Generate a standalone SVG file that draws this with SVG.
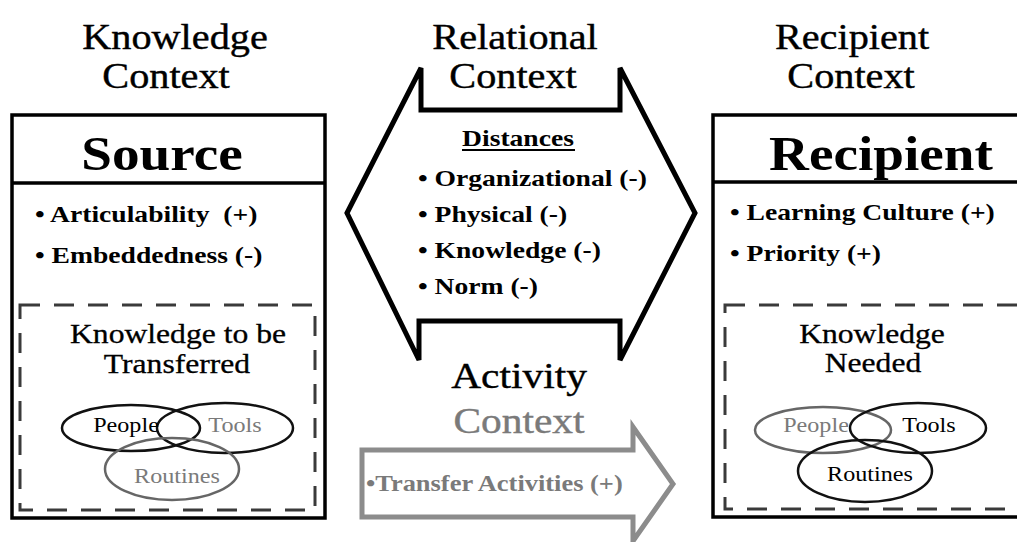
<svg xmlns="http://www.w3.org/2000/svg" width="1017" height="542" viewBox="0 0 1017 542">
<style>
.t{font-family:"Liberation Serif","Times New Roman",serif;fill:#000}
.title{font-size:35px;text-anchor:middle;stroke:#000;stroke-width:0.4}
.act{font-size:36px;text-anchor:middle;stroke:#000;stroke-width:0.4}
.actg{fill:#7a7a7a;stroke:#7a7a7a}
.head{font-size:48px;font-weight:bold;text-anchor:middle}
.b{font-size:24px;font-weight:bold}
.inner{font-size:27.5px;text-anchor:middle;stroke:#000;stroke-width:0.3}
.ov{font-size:21px;text-anchor:middle}
.grey{fill:#7a7a7a}
.box{fill:#fff;stroke:#000;stroke-width:3.5}
.sep{stroke:#000;stroke-width:3.5}
.dash{fill:none;stroke:#3a3a3a;stroke-width:3;stroke-dasharray:20 14}
.ell{fill:none;stroke:#111;stroke-width:2.5}
.ellg{fill:none;stroke:#666;stroke-width:2.5}
</style>
<rect width="1017" height="542" fill="#fff"/>

<g id="source">
  <text class="t title" transform="translate(175,49) scale(1.15,1)">Knowledge</text>
  <text class="t title" transform="translate(166,88) scale(1.15,1)">Context</text>
  <rect class="box" x="12" y="115" width="313" height="403"/>
  <line class="sep" x1="12" y1="183" x2="325" y2="183"/>
  <text class="t head" transform="translate(162,170) scale(1.15,1)">Source</text>
  <text class="t b" transform="translate(35,222) scale(1.15,1)">• Articulability&#160; (+)</text>
  <text class="t b" transform="translate(35,263) scale(1.15,1)">• Embeddedness (-)</text>
  <rect class="dash" x="20" y="305" width="295" height="205"/>
  <text class="t inner" transform="translate(178,343) scale(1.15,1)">Knowledge to be</text>
  <text class="t inner" transform="translate(177,373) scale(1.15,1)">Transferred</text>
  <ellipse class="ell" cx="131" cy="428" rx="69" ry="23"/>
  <ellipse class="ell" cx="225" cy="428" rx="68" ry="25"/>
  <ellipse class="ellg" cx="172" cy="469" rx="67" ry="31"/>
  <text class="t ov" transform="translate(126,432) scale(1.15,1)">People</text>
  <text class="t ov grey" transform="translate(235,432) scale(1.15,1)">Tools</text>
  <text class="t ov grey" transform="translate(177,483) scale(1.15,1)">Routines</text>
</g>

<g id="relational">
  <text class="t title" transform="translate(515,49) scale(1.15,1)">Relational</text>
  <text class="t title" transform="translate(513,88) scale(1.15,1)">Context</text>
  <path d="M347,213 L421,68 L421,110 L620,110 L620,68 L695,213 L620,360 L620,321 L419,321 L419,360 Z" fill="none" stroke="#000" stroke-width="5" stroke-linejoin="miter"/>
  <text class="t b" text-anchor="middle" transform="translate(518,146) scale(1.15,1)">Distances</text>
  <line x1="462" y1="150" x2="575" y2="150" stroke="#000" stroke-width="2"/>
  <text class="t b" transform="translate(418,186) scale(1.15,1)">• Organizational (-)</text>
  <text class="t b" transform="translate(418,222) scale(1.15,1)">• Physical (-)</text>
  <text class="t b" transform="translate(418,258) scale(1.15,1)">• Knowledge (-)</text>
  <text class="t b" transform="translate(418,294) scale(1.15,1)">• Norm (-)</text>
</g>

<g id="activity">
  <text class="t act" transform="translate(519,388) scale(1.15,1)">Activity</text>
  <text class="t act actg" transform="translate(519,433) scale(1.15,1)">Context</text>
  <path d="M362,450 L633,450 L633,427 L673,484 L633,541 L633,517 L362,517 Z" fill="#fff" stroke="#8c8c8c" stroke-width="5" stroke-linejoin="miter"/>
  <text class="t grey" font-size="23" font-weight="bold" transform="translate(366,491) scale(1.15,1)">•Transfer Activities (+)</text>
</g>

<g id="recipient">
  <text class="t title" transform="translate(852,49) scale(1.15,1)">Recipient</text>
  <text class="t title" transform="translate(851,88) scale(1.15,1)">Context</text>
  <rect class="box" x="713" y="115" width="320" height="402"/>
  <line class="sep" x1="713" y1="182" x2="1033" y2="182"/>
  <text class="t head" transform="translate(881,170) scale(1.15,1)">Recipient</text>
  <text class="t b" transform="translate(730,220) scale(1.15,1)">• Learning Culture (+)</text>
  <text class="t b" transform="translate(730,261) scale(1.15,1)">• Priority (+)</text>
  <rect class="dash" x="725" y="305" width="310" height="204"/>
  <text class="t inner" transform="translate(872,343) scale(1.15,1)">Knowledge</text>
  <text class="t inner" transform="translate(873,372) scale(1.15,1)">Needed</text>
  <ellipse class="ellg" cx="823" cy="430" rx="68" ry="23"/>
  <ellipse class="ell" cx="918" cy="428" rx="68" ry="25"/>
  <ellipse class="ell" cx="865" cy="471" rx="67" ry="31"/>
  <text class="t ov grey" transform="translate(816,432) scale(1.15,1)">People</text>
  <text class="t ov" transform="translate(929,432) scale(1.15,1)">Tools</text>
  <text class="t ov" transform="translate(870,481) scale(1.15,1)">Routines</text>
</g>

<g id="connectors"/>
</svg>
